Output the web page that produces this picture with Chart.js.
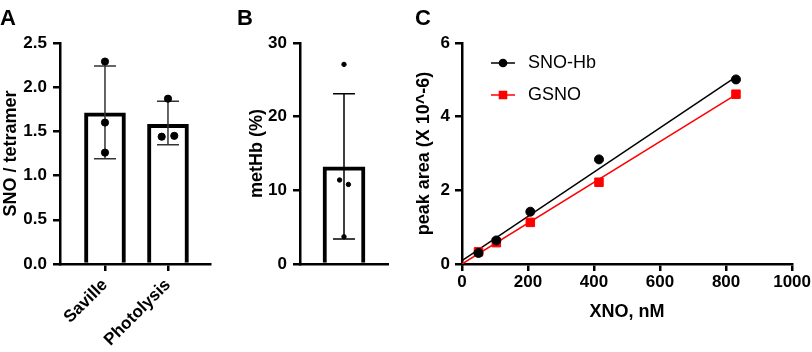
<!DOCTYPE html>
<html>
<head>
<meta charset="utf-8">
<script src="https://cdn.jsdelivr.net/npm/chart.js@4.4.1/dist/chart.umd.min.js"></script>
<style>
  body { margin: 0; background: #fff; }
  #wrap { position: relative; width: 812px; height: 352px; overflow: hidden; }
  canvas { position: absolute; top: 0; }
  .tag { position: absolute; top: 5px; line-height: 22px; font: bold 22px "Liberation Sans", Arial, sans-serif; }
</style>
</head>
<body>
<div id="wrap">
  <canvas id="chartA" width="230" height="352" style="left:0"></canvas>
  <canvas id="chartB" width="160" height="352" style="left:242px"></canvas>
  <canvas id="chartC" width="407" height="352" style="left:405px"></canvas>
  <div class="tag" style="left:0">A</div>
  <div class="tag" style="left:237px">B</div>
  <div class="tag" style="left:415px">C</div>
</div>
<script>
// panel A
const catsA = ["Saville", "Photolysis"];
const meanA = [1.71, 1.58];
const lowA = [1.19, 1.35];
const highA = [2.24, 1.84];
const dotXA = [0, 0, 0, 1, 0.9, 1.1];
const dotYA = [2.29, 1.60, 1.26, 1.87, 1.44, 1.45];

// panel B
const meanB = [13.2];
const lowB = [3.4];
const highB = [23.1];
const dotXB = [0, -0.05, 0.05, 0];
const dotYB = [27.1, 11.4, 10.8, 3.7];

// panel C
const xno = [50, 104, 207, 415, 830];
const snoHb = [0.30, 0.64, 1.42, 2.84, 5.01];
const gsno = [0.33, 0.58, 1.13, 2.22, 4.61];
const fitX = [0, 830];
const fitSnoHb = [0.09, 5.08];
const fitGsno = [0.0, 4.60];

Chart.defaults.font.family = '"Liberation Sans", Arial, sans-serif';
Chart.defaults.color = "#000";

// mean +/- error whiskers, drawn right after the bar dataset
const errorBars = {
  id: "errorBars",
  afterDatasetDraw(chart, args, opts) {
    if (args.index !== 0) return;
    const { ctx, scales: { x, y } } = chart;
    ctx.save();
    ctx.strokeStyle = opts.color;
    ctx.lineWidth = opts.width;
    opts.low.forEach((lo, i) => {
      const px = x.getPixelForValue(i);
      const y1 = y.getPixelForValue(lo);
      const y2 = y.getPixelForValue(opts.high[i]);
      ctx.beginPath();
      ctx.moveTo(px, y1); ctx.lineTo(px, y2);
      ctx.moveTo(px - opts.cap / 2, y1); ctx.lineTo(px + opts.cap / 2, y1);
      ctx.moveTo(px - opts.cap / 2, y2); ctx.lineTo(px + opts.cap / 2, y2);
      ctx.stroke();
    });
    ctx.restore();
  }
};

// legend with line + marker like the prism style
const lineLegend = {
  id: "lineLegend",
  afterDraw(chart, args, opts) {
    const { ctx, chartArea } = chart;
    opts.items.forEach((idx, k) => {
      const ds = chart.data.datasets[idx];
      const x0 = chartArea.left + opts.left;
      const y = chartArea.top + opts.top + k * opts.gap;
      ctx.save();
      ctx.strokeStyle = ds.borderColor;
      ctx.fillStyle = ds.backgroundColor;
      ctx.lineWidth = 1.5;
      ctx.beginPath();
      ctx.moveTo(x0, y); ctx.lineTo(x0 + 24, y);
      ctx.stroke();
      Chart.helpers.drawPoint(ctx, { pointStyle: ds.pointStyle, radius: ds.pointStyle === "rect" ? 5 : 3.6, borderWidth: 1 }, x0 + 12, y);
      ctx.fillStyle = "#000";
      ctx.font = '18px "Liberation Sans", Arial, sans-serif';
      ctx.textBaseline = "middle";
      ctx.fillText(ds.label, x0 + 37, y);
      ctx.restore();
    });
  }
};

const tickFont = { size: 17, weight: "bold" };
const titleFont = { size: 18, weight: "bold" };
const border = { color: "#000", width: 2.5 };
const grid = { drawOnChartArea: false, color: "#000", lineWidth: 2.5, tickLength: 7, offset: false };

new Chart(document.getElementById("chartA"), {
  type: "bar",
  data: {
    datasets: [
      {
        type: "bar",
        order: 2,
        data: catsA.map((c, i) => ({ x: i, y: meanA[i] })),
        backgroundColor: "#fff",
        borderColor: "#000",
        borderWidth: 4,
        barThickness: 41
      },
      {
        type: "scatter",
        order: 1,
        data: dotXA.map((x, i) => ({ x, y: dotYA[i] })),
        pointRadius: 3.6,
        backgroundColor: "#000",
        borderColor: "#000"
      }
    ]
  },
  options: {
    responsive: false,
    animation: false,
    devicePixelRatio: 1,
    layout: { padding: { left: 0, top: 43, right: 20, bottom: 0 } },
    plugins: {
      legend: { display: false },
      tooltip: { enabled: false },
      errorBars: { low: lowA, high: highA, color: "#333", width: 1.5, cap: 22 }
    },
    scales: {
      x: {
        type: "linear",
        offset: false,
        min: -0.714,
        max: 1.667,
        border: border,
        grid: grid,
        afterBuildTicks: (s) => { s.ticks = catsA.map((c, i) => ({ value: i })); },
        afterFit: (s) => { s.height = 88; },
        ticks: {
          autoSkip: false,
          minRotation: 45,
          maxRotation: 45,
          padding: 4,
          font: tickFont,
          callback: (v) => catsA[v]
        }
      },
      y: {
        min: 0,
        max: 2.5,
        border: border,
        grid: grid,
        afterFit: (s) => { s.width = 60; },
        ticks: { stepSize: 0.5, padding: 6, font: tickFont, callback: (v) => v.toFixed(1) },
        title: { display: true, text: "SNO / tetramer", font: titleFont, padding: { top: 0, bottom: 0 } }
      }
    }
  },
  plugins: [errorBars]
});

new Chart(document.getElementById("chartB"), {
  type: "bar",
  data: {
    datasets: [
      {
        type: "bar",
        order: 2,
        data: meanB.map((m, i) => ({ x: i, y: m })),
        backgroundColor: "#fff",
        borderColor: "#000",
        borderWidth: 4,
        barThickness: 42
      },
      {
        type: "scatter",
        order: 1,
        data: dotXB.map((x, i) => ({ x, y: dotYB[i] })),
        pointRadius: 2.2,
        backgroundColor: "#000",
        borderColor: "#000"
      }
    ]
  },
  options: {
    responsive: false,
    animation: false,
    devicePixelRatio: 1,
    layout: { padding: { left: 0, top: 43, right: 14, bottom: 0 } },
    plugins: {
      legend: { display: false },
      tooltip: { enabled: false },
      errorBars: { low: lowB, high: highB, color: "#000", width: 1.5, cap: 22 }
    },
    scales: {
      x: {
        type: "linear",
        offset: false,
        min: -0.5,
        max: 0.5,
        border: border,
        grid: { drawOnChartArea: false, drawTicks: false },
        afterFit: (s) => { s.height = 88; },
        ticks: { display: false }
      },
      y: {
        min: 0,
        max: 30,
        border: border,
        grid: grid,
        afterFit: (s) => { s.width = 58; },
        ticks: { stepSize: 10, padding: 6, font: tickFont },
        title: { display: true, text: "metHb (%)", font: titleFont, padding: { top: 4, bottom: 0 } }
      }
    }
  },
  plugins: [errorBars]
});

new Chart(document.getElementById("chartC"), {
  type: "scatter",
  data: {
    datasets: [
      {
        label: "SNO-Hb",
        data: xno.map((x, i) => ({ x, y: snoHb[i] })),
        pointStyle: "circle",
        pointRadius: 4.5,
        backgroundColor: "#000",
        borderColor: "#000"
      },
      {
        label: "GSNO",
        data: xno.map((x, i) => ({ x, y: gsno[i] })),
        pointStyle: "rect",
        pointRadius: 6,
        backgroundColor: "#ff0000",
        borderColor: "#ff0000"
      },
      {
        label: "SNO-Hb fit",
        data: fitX.map((x, i) => ({ x, y: fitSnoHb[i] })),
        showLine: true,
        pointRadius: 0,
        borderColor: "#000",
        borderWidth: 1.5
      },
      {
        label: "GSNO fit",
        data: fitX.map((x, i) => ({ x, y: fitGsno[i] })),
        showLine: true,
        pointRadius: 0,
        borderColor: "#ff0000",
        borderWidth: 1.5
      }
    ]
  },
  options: {
    responsive: false,
    animation: false,
    devicePixelRatio: 1,
    layout: { padding: { left: 0, top: 43, right: 19, bottom: 0 } },
    plugins: {
      legend: { display: false },
      tooltip: { enabled: false },
      lineLegend: { items: [0, 1], left: 29, top: 20, gap: 32 }
    },
    scales: {
      x: {
        min: 0,
        max: 1000,
        border: border,
        grid: grid,
        afterFit: (s) => { s.height = 88; },
        ticks: { stepSize: 200, padding: 1, font: tickFont, callback: (v) => String(v) },
        title: { display: true, text: "XNO, nM", font: titleFont, padding: { top: 4, bottom: 29 } }
      },
      y: {
        min: 0,
        max: 6,
        border: border,
        grid: grid,
        afterFit: (s) => { s.width = 57; },
        ticks: { stepSize: 2, padding: 5, font: tickFont, callback: (v) => String(v) },
        title: { display: true, text: "peak area (X 10^-6)", font: titleFont, padding: { top: 8, bottom: 0 } }
      }
    }
  },
  plugins: [lineLegend]
});
</script>
</body>
</html>
